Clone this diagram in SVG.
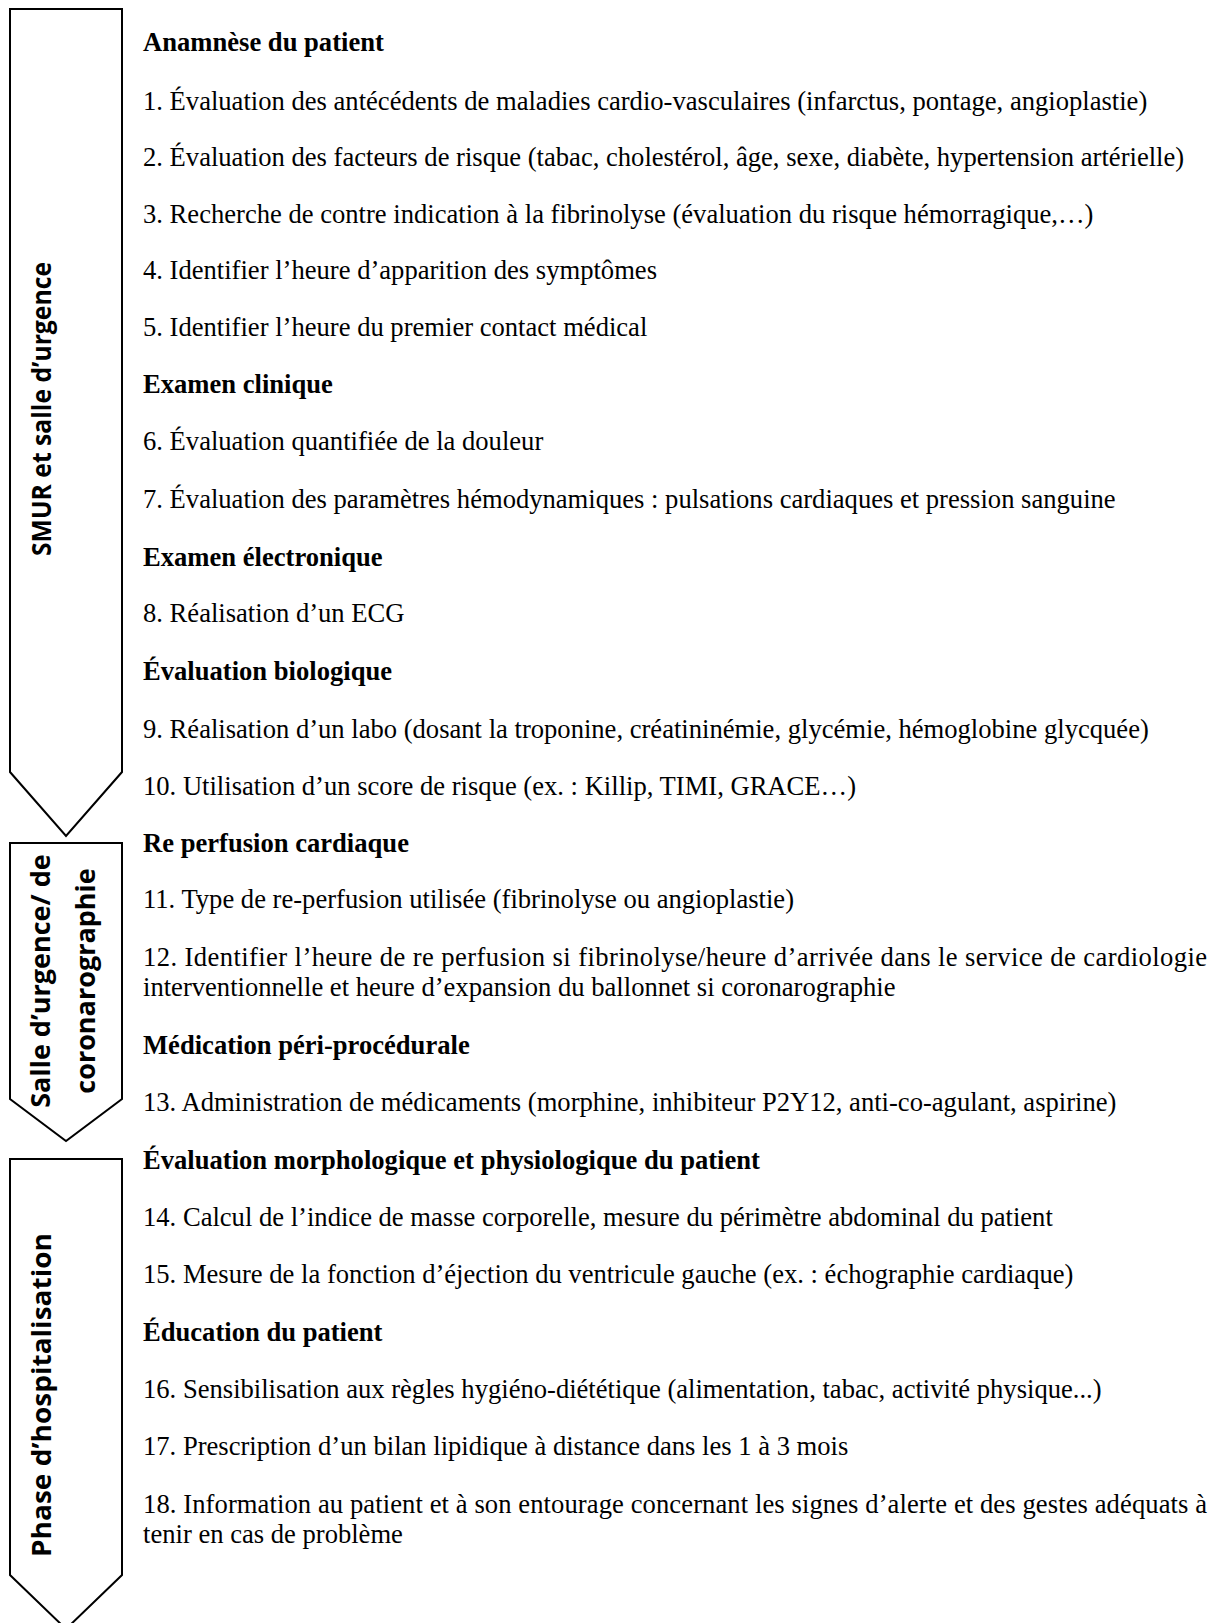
<svg xmlns="http://www.w3.org/2000/svg" width="1211" height="1623" viewBox="0 0 1211 1623">
  <style>
    .phase { fill: #ffffff; stroke: #000000; stroke-width: 2; stroke-linejoin: miter; }
    .plabel { font-family: "Open Sans", "Noto Sans", "Liberation Sans", sans-serif; font-weight: bold; font-size: 27px; fill: #000000; text-anchor: middle; }
    .body { font-family: "Liberation Serif", "Times New Roman", serif; font-size: 26.6px; fill: #000000; }
    .head { font-weight: bold; }
  </style>
  <rect width="1211" height="1623" fill="#ffffff"/>

  <!-- phase arrows -->
  <g id="phase-smur">
    <polygon class="phase" points="10,9 122,9 122,772 66,836 10,772"/>
    <text class="plabel" transform="translate(51,409) rotate(-90)" textLength="294" lengthAdjust="spacingAndGlyphs">SMUR et salle d’urgence</text>
  </g>
  <g id="phase-coronarographie">
    <polygon class="phase" points="10,843 122,843 122,1099 66,1141 10,1099"/>
    <text class="plabel" transform="translate(50,981) rotate(-90)">Salle d’urgence/ de</text>
    <text class="plabel" transform="translate(95,981) rotate(-90)">coronarographie</text>
  </g>
  <g id="phase-hospitalisation">
    <polygon class="phase" points="10,1159 122,1159 122,1575 66,1629 10,1575"/>
    <text class="plabel" transform="translate(51,1395) rotate(-90)" textLength="324" lengthAdjust="spacingAndGlyphs">Phase d’hospitalisation</text>
  </g>

  <!-- checklist items -->
  <g id="items" class="body">
    <text class="head" x="143" y="51.4">Anamnèse du patient</text>
    <text x="143" y="110.4">1. Évaluation des antécédents de maladies cardio-vasculaires (infarctus, pontage, angioplastie)</text>
    <text x="143" y="166.3">2. Évaluation des facteurs de risque (tabac, cholestérol, âge, sexe, diabète, hypertension artérielle)</text>
    <text x="143" y="223.2">3. Recherche de contre indication à la fibrinolyse (évaluation du risque hémorragique,…)</text>
    <text x="143" y="279.1">4. Identifier l’heure d’apparition des symptômes</text>
    <text x="143" y="336">5. Identifier l’heure du premier contact médical</text>

    <text class="head" x="143" y="393">Examen clinique</text>
    <text x="143" y="449.9">6. Évaluation quantifiée de la douleur</text>
    <text x="143" y="507.8">7. Évaluation des paramètres hémodynamiques : pulsations cardiaques et pression sanguine</text>

    <text class="head" x="143" y="565.8">Examen électronique</text>
    <text x="143" y="621.7">8. Réalisation d’un ECG</text>

    <text class="head" x="143" y="679.6">Évaluation biologique</text>
    <text x="143" y="737.6">9. Réalisation d’un labo (dosant la troponine, créatininémie, glycémie, hémoglobine glycquée)</text>
    <text x="143" y="794.5">10. Utilisation d’un score de risque (ex. : Killip, TIMI, GRACE…)</text>

    <text class="head" x="143" y="851.5">Re perfusion cardiaque</text>
    <text x="143" y="908.4">11. Type de re-perfusion utilisée (fibrinolyse ou angioplastie)</text>
    <text x="143" y="966.3" textLength="1064" lengthAdjust="spacing">12. Identifier l’heure de re perfusion si fibrinolyse/heure d’arrivée dans le service de cardiologie</text>
    <text x="143" y="996.4">interventionnelle et heure d’expansion du ballonnet si coronarographie</text>

    <text class="head" x="143" y="1054.3">Médication péri-procédurale</text>
    <text x="143" y="1111.2">13. Administration de médicaments (morphine, inhibiteur P2Y12, anti-co-agulant, aspirine)</text>

    <text class="head" x="143" y="1169.2">Évaluation morphologique et physiologique du patient</text>
    <text x="143" y="1226.1">14. Calcul de l’indice de masse corporelle, mesure du périmètre abdominal du patient</text>
    <text x="143" y="1283">15. Mesure de la fonction d’éjection du ventricule gauche (ex. : échographie cardiaque)</text>

    <text class="head" x="143" y="1341">Éducation du patient</text>
    <text x="143" y="1397.9">16. Sensibilisation aux règles hygiéno-diététique (alimentation, tabac, activité physique...)</text>
    <text x="143" y="1454.9">17. Prescription d’un bilan lipidique à distance dans les 1 à 3 mois</text>
    <text x="143" y="1512.8" textLength="1064" lengthAdjust="spacing">18. Information au patient et à son entourage concernant les signes d’alerte et des gestes adéquats à</text>
    <text x="143" y="1542.8">tenir en cas de problème</text>
  </g>
</svg>
